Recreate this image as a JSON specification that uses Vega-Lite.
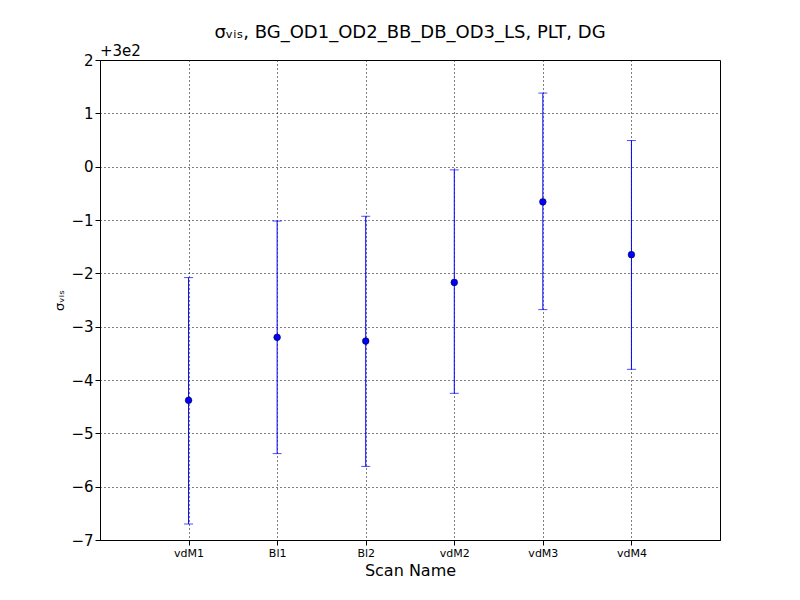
{
  "$schema": "https://vega.github.io/schema/vega-lite/v6.json",
  "width": 620,
  "height": 480,
  "padding": {"left": 100, "top": 60, "right": 80, "bottom": 60},
  "autosize": {"type": "none"},
  "title": {"text": "σᵥᵢₛ, BG_OD1_OD2_BB_DB_OD3_LS, PLT, DG", "fontSize": 18, "font": "DejaVu Sans", "fontWeight": "normal", "offset": 2},
  "data": {
    "values": [
      {"i": 1, "scan": "vdM1", "v": -4.38, "lo": -6.7, "hi": -2.08},
      {"i": 2, "scan": "Bl1", "v": -3.2, "lo": -5.38, "hi": -1.02},
      {"i": 3, "scan": "Bl2", "v": -3.27, "lo": -5.62, "hi": -0.93},
      {"i": 4, "scan": "vdM2", "v": -2.17, "lo": -4.25, "hi": -0.06},
      {"i": 5, "scan": "vdM3", "v": -0.66, "lo": -2.68, "hi": 1.38},
      {"i": 6, "scan": "vdM4", "v": -1.65, "lo": -3.8, "hi": 0.49}
    ]
  },
  "encoding": {
    "x": {
      "field": "i", "type": "quantitative",
      "scale": {"domain": [0, 7], "nice": false},
      "axis": {"title": "Scan Name", "values": [1, 2, 3, 4, 5, 6],
        "labelExpr": "['', 'vdM1', 'Bl1', 'Bl2', 'vdM2', 'vdM3', 'vdM4'][datum.value]",
        "labelFontSize": 11, "titleFontSize": 16, "titleFontWeight": "normal",
        "grid": true, "gridColor": "black", "gridDash": [1, 3], "tickSize": 5}
    }
  },
  "layer": [
    {
      "mark": {"type": "rule", "color": "blue"},
      "encoding": {
        "y": {"field": "lo", "type": "quantitative",
          "scale": {"domain": [-7, 2], "nice": false},
          "axis": {"title": "σᵥᵢₛ", "values": [-7, -6, -5, -4, -3, -2, -1, 0, 1, 2],
            "labelOverlap": false, "labelFlush": false,
            "labelFontSize": 15, "titleFontSize": 13, "titleFontWeight": "normal",
            "grid": true, "gridColor": "black", "gridDash": [1, 3]}},
        "y2": {"field": "hi"}
      }
    },
    {
      "mark": {"type": "tick", "color": "blue", "orient": "horizontal", "size": 9, "thickness": 1},
      "encoding": {"y": {"field": "lo", "type": "quantitative"}}
    },
    {
      "mark": {"type": "tick", "color": "blue", "orient": "horizontal", "size": 9, "thickness": 1},
      "encoding": {"y": {"field": "hi", "type": "quantitative"}}
    },
    {
      "mark": {"type": "point", "filled": true, "color": "blue", "size": 45, "opacity": 1, "stroke": "black", "strokeWidth": 0.5},
      "encoding": {"y": {"field": "v", "type": "quantitative"}}
    },
    {
      "data": {"values": [{"x": 0, "y": 2, "t": "+3e2"}]},
      "mark": {"type": "text", "align": "left", "baseline": "bottom", "dy": -1, "fontSize": 15, "font": "DejaVu Sans"},
      "encoding": {
        "x": {"field": "x", "type": "quantitative"},
        "y": {"field": "y", "type": "quantitative"},
        "text": {"field": "t"}
      }
    }
  ],
  "config": {
    "font": "DejaVu Sans",
    "view": {"stroke": "black"},
    "axis": {"domainColor": "black", "tickColor": "black", "labelColor": "black", "titleColor": "black"}
  }
}
